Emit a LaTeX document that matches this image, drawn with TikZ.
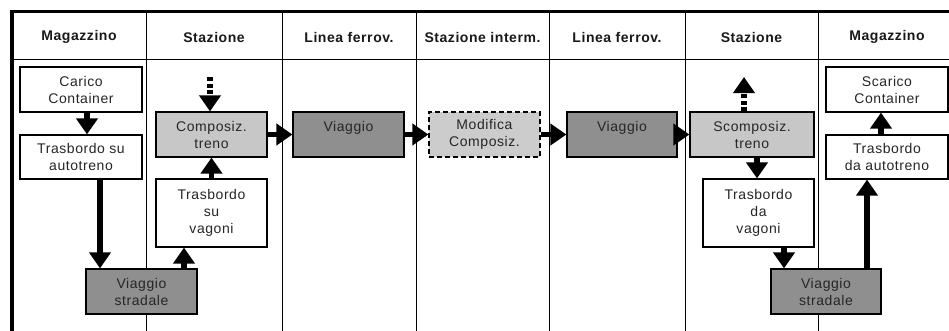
\documentclass[tikz,border=0pt]{standalone}
\usepackage{fontspec}
\setmainfont{Liberation Sans}[LetterSpace=4]
\usetikzlibrary{arrows.meta}
\definecolor{darkbox}{gray}{0.56}
\definecolor{lightbox}{gray}{0.78}
\definecolor{modbox}{gray}{0.80}
\tikzset{
  box/.style={draw=black, line width=1.2pt, align=center, inner sep=0pt,
    font=\fontsize{14}{17}\selectfont, text=black!85},
  wbox/.style={box, fill=white},
  dbox/.style={box, fill=darkbox},
  lbox/.style={box, fill=lightbox},
  mbox/.style={box, fill=modbox, dashed, dash pattern=on 5pt off 3pt},
  arr/.style={line width=5.5pt, -{Triangle[length=16pt,width=21pt]}},
  dotarr/.style={arr, dash pattern=on 4pt off 2.5pt},
  head/.style={font=\bfseries\fontsize{14}{15}\selectfont, inner sep=0pt, text=black!90},
  divider/.style={line width=1pt}
}
\begin{document}
\begin{tikzpicture}[x=1pt, y=-1pt]
\useasboundingbox (0,0) rectangle (949,330);
\clip (0,0) rectangle (949,330);
\fill[white] (0,0) rectangle (949,330);
% frame
\draw[line width=1pt] (12,59) -- (952,59);
\foreach \xx in {146,282,416,549,685,818} \draw[divider] (\xx,11) -- (\xx,332);
\draw[line width=3pt] (10,11) -- (952,11);
\draw[line width=4pt] (12,9.5) -- (12,332);
% headings
\node[head] (h1) at (79,37) {Magazzino};
\node[head] (h2) at (214,37) {Stazione};
\node[head] (h3) at (349,37) {Linea ferrov.};
\node[head] (h4) at (482.5,37) {Stazione interm.};
\node[head] (h5) at (617,37) {Linea ferrov.};
\node[head] (h6) at (751.5,37) {Stazione};
\node[head] (h7) at (887,37) {Magazzino};
% boxes
\node[wbox, minimum width=122pt, minimum height=45pt] (c1) at (81,89.5) {Carico\\Container};
\node[wbox, minimum width=122pt, minimum height=44pt] (t1) at (81,157) {Trasbordo su\\autotreno};
\node[dbox, minimum width=111pt, minimum height=45pt] (vs1) at (141.5,291.5) {Viaggio\\stradale};
\node[lbox, minimum width=111pt, minimum height=45pt] (comp) at (211.5,134.5) {Composiz.\\treno};
\node[wbox, minimum width=111pt, minimum height=68pt] (tv1) at (211.5,213) {Trasbordo\\su\\vagoni};
\node[dbox, minimum width=111pt, minimum height=45pt] (v1) at (348.5,134.5) {Viaggio\\~};
\node[mbox, minimum width=111pt, minimum height=45pt] (mod) at (484.5,134.5) {Modifica\\Composiz.};
\node[dbox, minimum width=110pt, minimum height=45pt] (v2) at (622,134.5) {Viaggio\\~};
\node[lbox, minimum width=124pt, minimum height=45pt] (scomp) at (752,134.5) {Scomposiz.\\treno};
\node[wbox, minimum width=111pt, minimum height=68pt] (tdv) at (758.5,213) {Trasbordo\\da\\vagoni};
\node[dbox, minimum width=110pt, minimum height=45pt] (vs2) at (826,291.5) {Viaggio\\stradale};
\node[wbox, minimum width=122pt, minimum height=44pt] (tda) at (887,157) {Trasbordo\\da autotreno};
\node[wbox, minimum width=122pt, minimum height=45pt] (sc) at (887,89.5) {Scarico\\Container};
% free ends of dotted arrows
\coordinate (inc) at (210,77);
\coordinate (outc) at (744,77);
% connectors
\draw[arr] ([xshift=6pt]c1.south) -- ([xshift=6pt]t1.north);
\draw[arr] ([xshift=19pt]t1.south) -- ([xshift=-41.5pt]vs1.north);
\draw[arr] ([xshift=42.5pt]vs1.north) -- ([xshift=-27.5pt]tv1.south);
\draw[arr] (tv1.north) -- (comp.south);
\draw[dotarr] (inc) -- (inc |- comp.north);
\draw[arr] (comp.east) -- (v1.west);
\draw[arr] (v1.east) -- (mod.west);
\draw[arr] (mod.east) -- (v2.west);
\draw[arr] (v2.east) -- (scomp.west);
\draw[dotarr] (outc |- scomp.north) -- (outc);
\draw[arr] ([xshift=5pt]scomp.south) -- ([xshift=-1.5pt]tdv.north);
\draw[arr] ([xshift=25.5pt]tdv.south) -- ([xshift=-42pt]vs2.north);
\draw[arr] ([xshift=41pt]vs2.north) -- ([xshift=-20pt]tda.south);
\draw[arr] ([xshift=-6pt]tda.north) -- ([xshift=-6pt]sc.south);
\end{tikzpicture}
\end{document}
